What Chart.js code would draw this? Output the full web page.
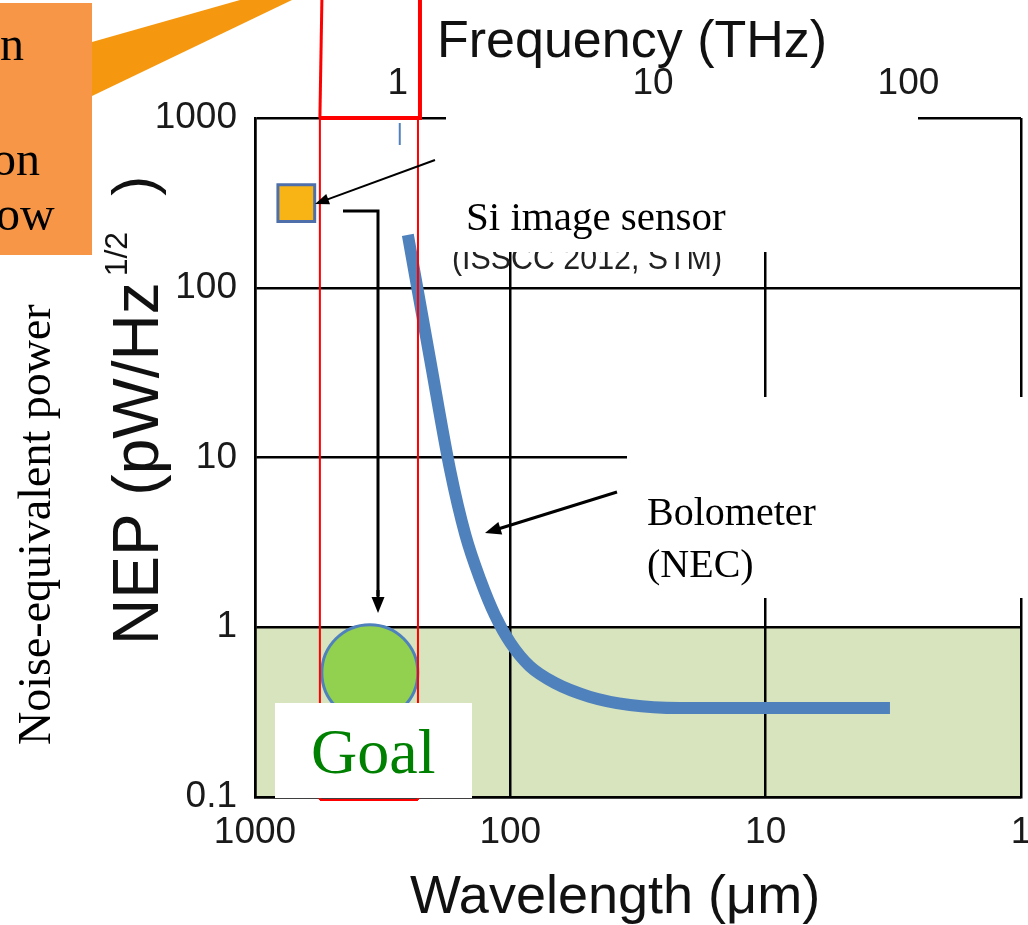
<!DOCTYPE html>
<html>
<head>
<meta charset="utf-8">
<script src="https://cdn.jsdelivr.net/npm/chart.js@4/dist/chart.umd.min.js"></script>
<style>
html, body { margin: 0; padding: 0; background: #fff; overflow: hidden; }
canvas { display: block; }
</style>
</head>
<body>
<canvas id="c" width="1028" height="925"></canvas>
<script>
"use strict";

// Bolometer (NEC) curve, wavelength in um vs NEP in pW/Hz^1/2
var bolometerWl  = [252, 206, 172, 150, 131, 115, 100, 84, 67, 49, 34, 21.7, 3.26];
var bolometerNep = [205, 37.5, 8.4, 3.5, 1.9, 1.18, 0.81, 0.59, 0.47, 0.39, 0.348, 0.334, 0.334];

// Si image sensor (ISSCC 2012, STM) and the goal
var sensorWl = [689];
var sensorNep = [315];
var goalWl = [355];
var goalNep = [0.54];

// shaded target region (NEP below 1) and the red frequency window (um)
var targetBand = [0.1, 1];
var redWindow = [557, 230];

// axis ticks
var wlTicks = [1000, 100, 10, 1];
var nepTicks = [0.1, 1, 10, 100, 1000];
var thzTicks = [1, 10, 100];

var SANS = '"Liberation Sans", Arial, sans-serif';
var SERIF = '"Liberation Serif", "Times New Roman", serif';

function pts(xs, ys) {
  return xs.map(function(x, i) { return { x: x, y: ys[i] }; });
}

function arrow(ctx, x1, y1, x2, y2, w, hl, hw) {
  var a = Math.atan2(y2 - y1, x2 - x1);
  ctx.save();
  ctx.strokeStyle = "#000";
  ctx.fillStyle = "#000";
  ctx.lineWidth = w;
  ctx.beginPath();
  ctx.moveTo(x1, y1);
  ctx.lineTo(x2 - Math.cos(a) * hl * 0.8, y2 - Math.sin(a) * hl * 0.8);
  ctx.stroke();
  ctx.translate(x2, y2);
  ctx.rotate(a);
  ctx.beginPath();
  ctx.moveTo(0, 0);
  ctx.lineTo(-hl, hw / 2);
  ctx.lineTo(-hl, -hw / 2);
  ctx.closePath();
  ctx.fill();
  ctx.restore();
}

var deco = {
  id: "deco",
  beforeDraw: function(chart) {
    var ctx = chart.ctx, a = chart.chartArea, y = chart.scales.y;
    ctx.save();
    ctx.fillStyle = "#fff";
    ctx.fillRect(0, 0, chart.width, chart.height);
    // green target band
    var yTop = y.getPixelForValue(targetBand[1]);
    var yBot = y.getPixelForValue(targetBand[0]);
    ctx.fillStyle = "#D8E4BD";
    ctx.fillRect(a.left, yTop, a.right - a.left, yBot - yTop);
    ctx.restore();
  },
  afterDatasetsDraw: function(chart) {
    var ctx = chart.ctx, a = chart.chartArea, x = chart.scales.x, x2 = chart.scales.x2;
    var xl = x.getPixelForValue(redWindow[0]);
    var xr = x.getPixelForValue(redWindow[1]);
    ctx.save();
    ctx.strokeStyle = "#FF0000";
    // red window inside the plot
    ctx.lineWidth = 2;
    ctx.beginPath();
    ctx.moveTo(xl, a.top); ctx.lineTo(xl, a.bottom + 3);
    ctx.moveTo(xr, a.top); ctx.lineTo(xr, a.bottom + 3);
    ctx.moveTo(xl, a.bottom + 3); ctx.lineTo(xr, a.bottom + 3);
    ctx.stroke();
    // and above it, up to the top of the page
    ctx.lineWidth = 3;
    ctx.beginPath();
    ctx.moveTo(xl + 2, 0); ctx.lineTo(xl, a.top);
    ctx.stroke();
    ctx.lineWidth = 4;
    ctx.beginPath();
    ctx.moveTo(xr + 2, 0); ctx.lineTo(xr + 2, a.top + 2);
    ctx.moveTo(xl, a.top); ctx.lineTo(xr + 2, a.top);
    ctx.stroke();
    // small blue tick under 1 THz
    var xt = x2.getPixelForValue(1) + 2;
    ctx.strokeStyle = "#4F81BD";
    ctx.lineWidth = 2;
    ctx.beginPath();
    ctx.moveTo(xt, a.top + 5); ctx.lineTo(xt, a.top + 27);
    ctx.stroke();
    ctx.restore();
  },
  afterDraw: function(chart) {
    var ctx = chart.ctx;
    ctx.save();

    // orange callout box (cut off at the left edge) and its wedge
    ctx.fillStyle = "#F5980F";
    ctx.beginPath();
    ctx.moveTo(92, 42); ctx.lineTo(240, 0); ctx.lineTo(292, 0); ctx.lineTo(92, 96);
    ctx.closePath();
    ctx.fill();
    ctx.fillStyle = "#F79646";
    ctx.fillRect(0, 3, 92, 252);
    ctx.fillStyle = "#000";
    ctx.font = "48px " + SERIF;
    ctx.textBaseline = "alphabetic";
    ctx.textAlign = "left";
    ctx.fillText("n", 0, 60);
    ctx.fillText("on", -8, 175);
    ctx.fillText("ow", -4, 230);

    // arrows
    arrow(ctx, 435, 160, 315, 204, 2, 14, 11);
    ctx.strokeStyle = "#000";
    ctx.lineWidth = 3;
    ctx.beginPath();
    ctx.moveTo(343, 211); ctx.lineTo(378, 211); ctx.lineTo(378, 596);
    ctx.stroke();
    arrow(ctx, 378, 590, 378, 613, 3, 16, 13);
    arrow(ctx, 617, 492, 485, 533, 3, 16, 13);

    // Si image sensor label box
    ctx.fillStyle = "#222";
    ctx.font = "34px " + SANS;
    ctx.fillText("(ISSCC 2012, STM)", 452, 269, 270);
    ctx.fillStyle = "#fff";
    ctx.fillRect(446, 104, 472, 148);
    ctx.fillStyle = "#000";
    ctx.font = "41px " + SERIF;
    ctx.fillText("Si image sensor", 466, 230);

    // Bolometer label box
    ctx.fillStyle = "#fff";
    ctx.fillRect(627, 397, 401, 201);
    ctx.fillStyle = "#000";
    ctx.font = "40px " + SERIF;
    ctx.fillText("Bolometer", 647, 525);
    ctx.fillText("(NEC)", 647, 577);

    // Goal label box
    ctx.fillStyle = "#fff";
    ctx.fillRect(275, 703, 197, 95);
    ctx.fillStyle = "#008000";
    ctx.font = "64px " + SERIF;
    ctx.fillText("Goal", 311, 773);

    // axis titles
    ctx.fillStyle = "#111";
    ctx.font = "52px " + SANS;
    ctx.fillText("Frequency (THz)", 437, 57);
    ctx.textAlign = "center";
    ctx.font = "54px " + SANS;
    ctx.fillText("Wavelength (\u03bcm)", 615, 913);

    // NEP (pW/Hz^1/2)
    ctx.save();
    ctx.translate(158, 645);
    ctx.rotate(-Math.PI / 2);
    ctx.textAlign = "left";
    ctx.font = "64px " + SANS;
    var main = "NEP (pW/Hz";
    var w = ctx.measureText(main).width;
    ctx.fillText(main, 0, 0);
    ctx.font = "32px " + SANS;
    ctx.fillText("1/2", w + 6, -31);
    var w2 = ctx.measureText("1/2").width;
    ctx.font = "60px " + SANS;
    ctx.fillText(")", w + 6 + w2 + 36, -4);
    ctx.restore();

    // Noise-equivalent power
    ctx.save();
    ctx.translate(50, 745);
    ctx.rotate(-Math.PI / 2);
    ctx.textAlign = "left";
    ctx.fillStyle = "#000";
    ctx.font = "46px " + SERIF;
    ctx.fillText("Noise-equivalent power", 0, 0);
    ctx.restore();

    ctx.restore();
  }
};

var tickFont = { family: SANS, size: 37 };
var tickColor = "#1a1a1a";
var gridStyle = { color: "#000", lineWidth: 2.5, drawTicks: false };

new Chart(document.getElementById("c"), {
  type: "scatter",
  data: {
    datasets: [
      {
        label: "Bolometer (NEC)",
        data: pts(bolometerWl, bolometerNep),
        showLine: true,
        borderColor: "#4F81BD",
        borderWidth: 12,
        borderCapStyle: "butt",
        cubicInterpolationMode: "monotone",
        pointRadius: 0,
        clip: false
      },
      {
        label: "Si image sensor",
        data: pts(sensorWl, sensorNep),
        pointStyle: "rect",
        pointRadius: 26,
        backgroundColor: "#F8B414",
        borderColor: "#4F6FAA",
        borderWidth: 3,
        clip: false
      },
      {
        label: "Goal",
        data: pts(goalWl, goalNep),
        pointStyle: "circle",
        pointRadius: 48,
        backgroundColor: "#92D050",
        borderColor: "#4F81BD",
        borderWidth: 3,
        clip: false
      }
    ]
  },
  options: {
    responsive: false,
    animation: false,
    events: [],
    layout: { autoPadding: false, padding: { left: 0, right: 7, top: 0, bottom: 0 } },
    plugins: { legend: { display: false }, tooltip: { enabled: false } },
    scales: {
      x: {
        type: "logarithmic",
        position: "bottom",
        reverse: true,
        min: 1,
        max: 1000,
        afterBuildTicks: function(s) { s.ticks = wlTicks.map(function(v) { return { value: v }; }); },
        afterFit: function(s) { s.height = 128; s.paddingLeft = 0; s.paddingRight = 0; },
        grid: gridStyle,
        border: { color: "#000", width: 2.5 },
        ticks: { padding: 14, font: tickFont, color: tickColor, maxRotation: 0, autoSkip: false,
                 callback: function(v) { return String(v); } }
      },
      x2: {
        type: "logarithmic",
        position: "top",
        min: 0.276,
        max: 276,
        afterBuildTicks: function(s) { s.ticks = thzTicks.map(function(v) { return { value: v }; }); },
        afterFit: function(s) { s.height = 118; s.paddingLeft = 0; s.paddingRight = 0; },
        grid: { display: false, drawTicks: false },
        border: { display: false },
        ticks: { padding: 12, font: tickFont, color: tickColor, maxRotation: 0, autoSkip: false,
                 callback: function(v) { return String(v); } }
      },
      y: {
        type: "logarithmic",
        position: "left",
        min: 0.1,
        max: 1000,
        afterBuildTicks: function(s) { s.ticks = nepTicks.map(function(v) { return { value: v }; }); },
        afterFit: function(s) { s.width = 255; },
        grid: gridStyle,
        border: { color: "#000", width: 2.5 },
        ticks: { padding: 18, font: tickFont, color: tickColor, autoSkip: false,
                 callback: function(v) { return String(v); } }
      }
    }
  },
  plugins: [deco]
});
</script>
</body>
</html>
